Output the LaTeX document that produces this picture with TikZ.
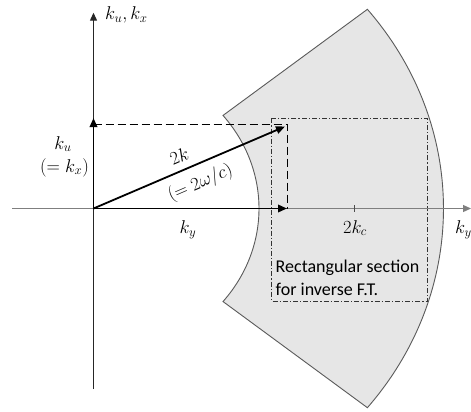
\RequirePackage{fix-cm}
\documentclass[tikz,border=0pt]{standalone}
\usepackage{fontspec}
\setmainfont{Carlito}
\usetikzlibrary{arrows.meta,calc}
\definecolor{sectorfill}{HTML}{E6E6E6}
\definecolor{sectoredge}{HTML}{5A5A5A}
\definecolor{axisgray}{HTML}{7F7F7F}
\tikzset{
  sector/.style={fill=sectorfill, draw=sectoredge, line width=0.9pt},
  axisline/.style={line width=1.2pt, -{Triangle[length=8pt,width=7pt]}},
  vecarrow/.style={line width=1.8pt, black, -{Triangle[length=9pt,width=7.5pt]}},
  dashline/.style={line width=0.9pt, black, dash pattern=on 8pt off 4pt},
  rectsec/.style={draw=black!80, line width=0.8pt, dash pattern=on 5pt off 2pt on 1.2pt off 2pt},
  mathlbl/.style={inner sep=0pt, font=\fontsize{18.5}{22}\selectfont},
  textlbl/.style={inner sep=0pt, align=left, font=\fontsize{18}{23}\selectfont}
}
\begin{document}
\begin{tikzpicture}[x=1pt,y=-1pt]
\useasboundingbox (0,0) rectangle (471,412);
% key points
\coordinate (O) at (93.5,208.5);
\coordinate (ytop) at (93.5,12.7);
\coordinate (ybot) at (93.5,389);
\coordinate (xl) at (12,208.5);
\coordinate (xr) at (471,208.5);
\coordinate (ku) at (93.5,118);
\coordinate (ky) at (287,208.5);
\coordinate (kk) at (285,126.5);
\coordinate (dl) at (93.5,124.5);
\coordinate (dc) at (287.5,124.5);
\coordinate (db) at (287.5,208.5);
\coordinate (tickt) at (354.3,205);
\coordinate (tickb) at (354.3,211.5);
% sector (block arc)
\path[sector] (O) ++(-38.5:165.5 and 149.5)
  arc[start angle=-38.5, end angle=38.5, x radius=165.5, y radius=149.5]
  -- ($(O)+(38.5:350 and 320)$)
  arc[start angle=38.5, end angle=-38.5, x radius=350, y radius=320]
  -- cycle;
% rectangular section
\draw[rectsec] (271.7,118.3) rectangle (427.7,301);
% axes
\draw[axisline, axisgray] (xl) -- (xr);
\draw[axisline, black!85] (ybot) -- (ytop);
\draw[line width=0.9pt, black!70] (tickt) -- (tickb);
% dashed projections
\draw[dashline] (dl) -- (dc) -- (db);
% vectors
\draw[vecarrow] (O) -- (ku);
\draw[vecarrow] (O) -- (ky);
\draw[vecarrow] (O) -- (kk);
% labels
\node[mathlbl, anchor=west] (lax) at (105,15) {$k_u, k_x$};
\node[mathlbl] (lku) at (63,144) {$k_u$};
\node[mathlbl] (lkx) at (64.5,167.5) {$(=k_x)$};
\node[mathlbl, rotate=23.3] (l2k) at (179.2,156.2) {$2k$};
\node[mathlbl, rotate=23.3] (lw) at (200.4,183.2) {$(=2\omega/c)$};
\node[mathlbl] (lky) at (188,230) {$k_y$};
\node[mathlbl] (lkc) at (355,228) {$2k_c$};
\node[mathlbl, anchor=west] (lkyr) at (455,230) {$k_y$};
\node[textlbl, anchor=west] (lrect) at (275.5,277.5) {Rectangular section\\for inverse F.T.};
\end{tikzpicture}
\end{document}
